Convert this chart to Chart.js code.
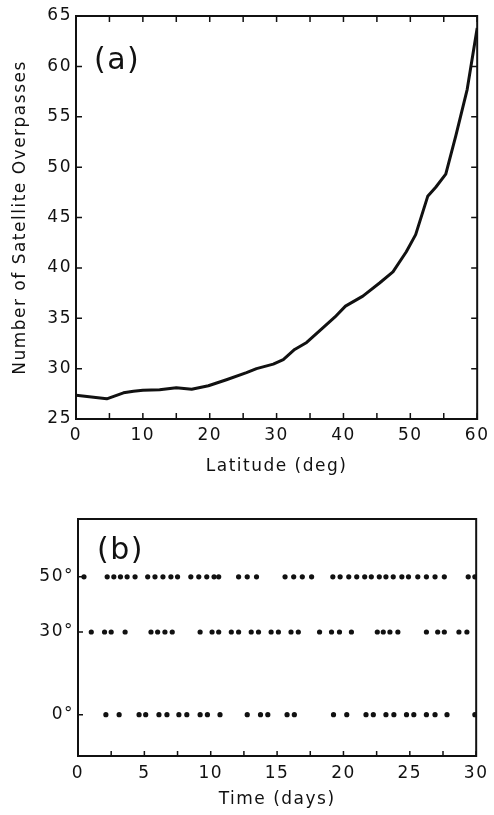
<!DOCTYPE html>
<html>
<head>
<meta charset="utf-8">
<script src="https://cdn.jsdelivr.net/npm/chart.js@4/dist/chart.umd.min.js"></script>
<style>
  body { margin: 0; background: #fff; }
  #chartA { position: absolute; left: 0; top: 0; }
  #chartB { position: absolute; left: 0; top: 495px; }
</style>
</head>
<body>
<canvas id="chartA" width="494" height="495"></canvas>
<canvas id="chartB" width="494" height="320"></canvas>
<script>
//Panel (a) data
const latitude = [0, 4.6, 7.1, 8.6, 10, 12.5, 15, 17.3, 19.8, 22.5, 25.5, 27, 29.5, 31, 32.7, 34.5, 37, 38.7, 40.3,
  42.9, 45.4, 47.4, 49.4, 50.8, 52.6, 53.8, 55.3, 56.8, 58.5, 60];
const overpasses = [27.35, 27.0, 27.6, 27.75, 27.85, 27.9, 28.1, 27.95, 28.3, 28.9, 29.6, 30.0, 30.45, 30.9, 31.9, 32.6, 34.1, 35.1, 36.2,
  37.2, 38.5, 39.6, 41.6, 43.3, 47.1, 48.0, 49.3, 53.1, 57.7, 63.8];
const latTickLabels = [0, 10, 20, 30, 40, 50, 60];
const countTickLabels = [25, 30, 35, 40, 45, 50, 55, 60, 65];

//Panel (b) data: days with an overpass, per latitude row
const rowLats = [0, 30, 50];
const days50 = [0.45, 2.2, 2.7, 3.2, 3.7, 4.3, 5.25, 5.8, 6.4, 7.0, 7.5, 8.5, 9.1, 9.7, 10.25, 10.6, 12.1, 12.75, 13.45,
  15.6, 16.25, 16.9, 17.6, 19.2, 19.75, 20.4, 21.0, 21.6, 22.1, 22.7, 23.2, 23.75, 24.4, 24.9, 25.6, 26.25, 26.9, 27.6, 29.4, 29.9];
const days30 = [1.0, 2.0, 2.5, 3.55, 5.5, 6.0, 6.55, 7.1, 9.2, 10.1, 10.6, 11.55, 12.1, 13.05, 13.6, 14.55, 15.1, 16.05, 16.6,
  18.2, 19.1, 19.7, 20.6, 22.55, 23.0, 23.5, 24.1, 26.25, 27.1, 27.6, 28.7, 29.3];
const days0 = [2.1, 3.1, 4.6, 5.1, 6.1, 6.7, 7.6, 8.2, 9.2, 9.75, 10.7, 12.75, 13.75, 14.3, 15.75, 16.3, 19.25, 20.25,
  21.7, 22.25, 23.2, 23.8, 24.75, 25.3, 26.25, 26.9, 27.8, 29.9];
const dayTickLabels = [0, 5, 10, 15, 20, 25, 30];

const ink = "#111";
const fontName = "'DejaVu Sans', sans-serif";

//frame, inward ticks and panel letter
const frameTicks = {
  id: "frameTicks",
  beforeDraw(chart) {
    chart.ctx.letterSpacing = "1.5px";
  },
  afterDraw(chart, args, opts) {
    let ctx = chart.ctx;
    let a = chart.chartArea;
    let xs = chart.scales.x;
    let ys = chart.scales.y;
    ctx.save();
    ctx.strokeStyle = ink;
    ctx.lineWidth = 2;
    ctx.strokeRect(a.left, a.top, a.right - a.left, a.bottom - a.top);
    ctx.lineWidth = 1.5;
    ctx.beginPath();
    opts.xTicks.forEach((v) => {
      let px = xs.getPixelForValue(v);
      ctx.moveTo(px, a.bottom);
      ctx.lineTo(px, a.bottom - opts.len);
      if (opts.topTicks) {
        ctx.moveTo(px, a.top);
        ctx.lineTo(px, a.top + opts.len);
      }
    });
    opts.yTicks.forEach((v) => {
      let py = ys.getPixelForValue(v);
      ctx.moveTo(a.left, py);
      ctx.lineTo(a.left + opts.len, py);
      if (opts.rightTicks) {
        ctx.moveTo(a.right, py);
        ctx.lineTo(a.right - opts.len, py);
      }
    });
    ctx.stroke();
    ctx.fillStyle = ink;
    ctx.font = "30px " + fontName;
    ctx.textBaseline = "middle";
    ctx.textAlign = "left";
    ctx.fillText(opts.label, a.left + opts.labelDx, a.top + opts.labelDy);
    ctx.restore();
  },
};

const tickFont = { family: fontName, size: 17 };
const titleFont = { family: fontName, size: 17 };

//Panel (a)
let ctxA = document.getElementById("chartA").getContext("2d");
new Chart(ctxA, {
  type: "line",
  data: {
    datasets: [
      {
        data: latitude.map((x, i) => ({ x: x, y: overpasses[i] })),
        borderColor: ink,
        borderWidth: 3,
        pointRadius: 0,
        tension: 0,
        borderJoinStyle: "round",
      },
    ],
  },
  options: {
    responsive: false,
    animation: false,
    layout: { padding: { top: 16, right: 16, left: 0, bottom: 0 } },
    plugins: {
      legend: { display: false },
      tooltip: { enabled: false },
      frameTicks: {
        xTicks: [0, 5, 10, 15, 20, 25, 30, 35, 40, 45, 50, 55, 60],
        yTicks: countTickLabels,
        len: 6,
        topTicks: true,
        rightTicks: true,
        label: "(a)",
        labelDx: 18,
        labelDy: 45,
      },
    },
    scales: {
      x: {
        type: "linear",
        min: 0,
        max: 60,
        grid: { display: false, drawTicks: false },
        border: { display: false },
        afterBuildTicks: (s) => { s.ticks = latTickLabels.map((v) => ({ value: v })); },
        ticks: { color: ink, font: tickFont, padding: 6, maxRotation: 0 },
        title: { display: true, text: "Latitude (deg)", color: ink, font: titleFont, padding: { top: 0, bottom: 18 } },
        afterFit: (s) => { s.height = 76; },
      },
      y: {
        min: 25,
        max: 65,
        grid: { display: false, drawTicks: false },
        border: { display: false },
        afterBuildTicks: (s) => { s.ticks = countTickLabels.map((v) => ({ value: v })); },
        ticks: { color: ink, font: tickFont, padding: 4 },
        title: { display: true, text: "Number of Satellite Overpasses", color: ink, font: titleFont, padding: { top: 10, bottom: 0 } },
        afterFit: (s) => { s.width = 76; },
      },
    },
  },
  plugins: [frameTicks],
});

//Panel (b)
const rowSets = [days50, days30, days0];
let ctxB = document.getElementById("chartB").getContext("2d");
new Chart(ctxB, {
  type: "scatter",
  data: {
    datasets: rowSets.map((days, k) => ({
      data: days.map((d) => ({ x: d, y: [50, 30, 0][k] })),
      backgroundColor: ink,
      borderWidth: 0,
      pointRadius: 2.6,
    })),
  },
  options: {
    responsive: false,
    animation: false,
    layout: { padding: { top: 24, right: 14, left: 0, bottom: 0 } },
    plugins: {
      legend: { display: false },
      tooltip: { enabled: false },
      frameTicks: {
        xTicks: [0, 2.5, 5, 7.5, 10, 12.5, 15, 17.5, 20, 22.5, 25, 27.5, 30],
        yTicks: rowLats,
        len: 5,
        topTicks: false,
        rightTicks: false,
        label: "(b)",
        labelDx: 19,
        labelDy: 32,
      },
    },
    scales: {
      x: {
        type: "linear",
        min: 0,
        max: 30,
        grid: { display: false, drawTicks: false },
        border: { display: false },
        afterBuildTicks: (s) => { s.ticks = dayTickLabels.map((v) => ({ value: v })); },
        ticks: { color: ink, font: tickFont, padding: 7, maxRotation: 0 },
        title: { display: true, text: "Time (days)", color: ink, font: titleFont, padding: { top: 0, bottom: 5 } },
        afterFit: (s) => { s.height = 59; },
      },
      y: {
        min: -15,
        max: 71,
        grid: { display: false, drawTicks: false },
        border: { display: false },
        afterBuildTicks: (s) => { s.ticks = rowLats.map((v) => ({ value: v })); },
        ticks: { color: ink, font: tickFont, padding: 4, callback: (v) => v + "°" },
        afterFit: (s) => { s.width = 78; },
      },
    },
  },
  plugins: [frameTicks],
});
</script>
</body>
</html>
